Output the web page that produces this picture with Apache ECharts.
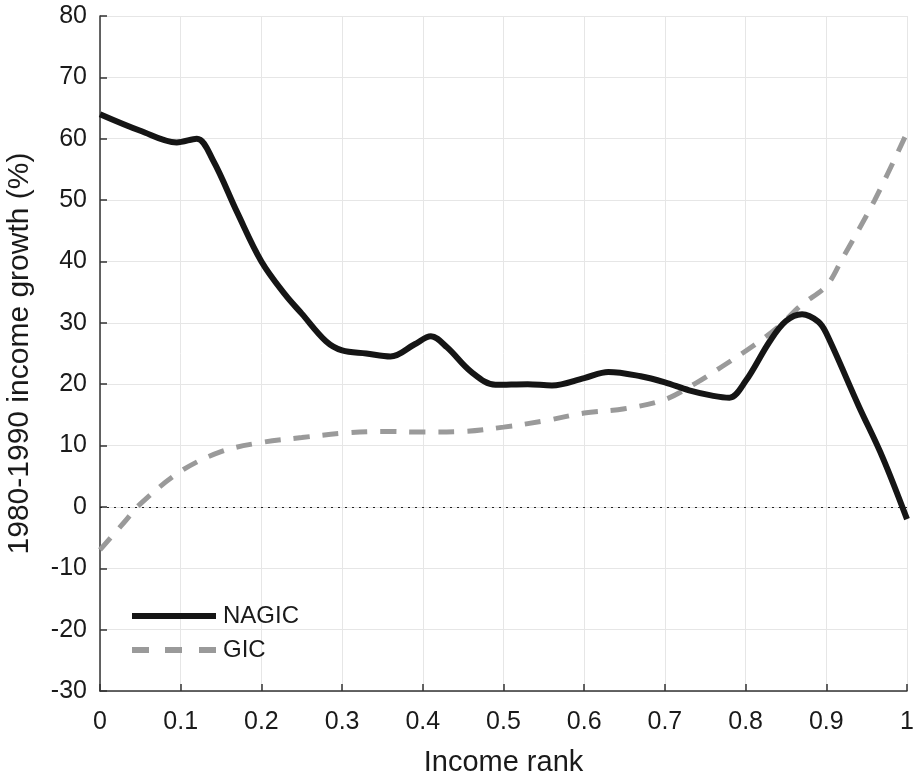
<!DOCTYPE html>
<html>
<head>
<meta charset="utf-8">
<script src="https://cdn.jsdelivr.net/npm/echarts@6/dist/echarts.min.js"></script>
<style>
html, body { margin: 0; padding: 0; background: #fff; }
#chart { width: 913px; height: 777px; }
</style>
</head>
<body>
<div id="chart"></div>
<script>
// NAGIC: non-anonymous growth incidence curve
var nagicX = [0, 0.05, 0.095, 0.12, 0.14, 0.17, 0.2, 0.23, 0.25, 0.28, 0.3, 0.33, 0.36, 0.39, 0.41, 0.43, 0.46, 0.49, 0.53, 0.56, 0.6, 0.63, 0.67, 0.7, 0.73, 0.76, 0.78, 0.8, 0.83, 0.85, 0.87, 0.89, 0.9, 0.94, 0.97, 1.0];
var nagicY = [64, 61.3, 59.4, 60, 56.5, 48, 40, 34.5, 31.5, 27, 25.5, 25, 24.5, 26.5, 27.8, 26, 22, 19.9, 20, 19.8, 21, 22, 21.3, 20.3, 19, 18.1, 17.8, 20.5, 27, 30.3, 31.4, 30.2, 28.3, 16.5, 8, -2];
// GIC: growth incidence curve
var gicX = [0, 0.03, 0.05, 0.1, 0.15, 0.2, 0.25, 0.3, 0.35, 0.4, 0.45, 0.5, 0.55, 0.6, 0.65, 0.7, 0.74, 0.77, 0.81, 0.84, 0.87, 0.9, 0.92, 0.96, 1.0];
var gicY = [-7, -2.5, 0.5, 5.8, 9, 10.5, 11.3, 12, 12.3, 12.2, 12.3, 13, 14, 15.3, 16, 17.5, 20.3, 22.8, 26.3, 29.3, 33, 36, 40.5, 50, 61];

function pairs(xs, ys) {
    var out = [];
    for (var i = 0; i < xs.length; i++) out.push([xs[i], ys[i]]);
    return out;
}

var chart = echarts.init(document.getElementById('chart'));
var font = 'Liberation Sans, Arial, sans-serif';
var option = {
    backgroundColor: '#fff',
    animation: false,
    grid: { left: 100, right: 6, top: 16, bottom: 86, containLabel: false, outerBoundsMode: 'none' },
    legend: {
        orient: 'vertical',
        left: 127,
        top: 599,
        itemWidth: 84,
        itemHeight: 6,
        itemGap: 10,
        textStyle: { fontSize: 24, color: '#1a1a1a', fontFamily: font, padding: [0, 0, 0, 2] },
        data: [
            { name: 'NAGIC', icon: 'path://M0,0h84v6h-84z' },
            { name: 'GIC', icon: 'path://M0,0h17v6h-17z M33,0h17v6h-17z M67,0h17v6h-17z' }
        ]
    },
    xAxis: {
        type: 'value',
        min: 0, max: 1, interval: 0.1,
        name: 'Income rank',
        nameLocation: 'middle',
        nameGap: 57,
        nameTextStyle: { fontSize: 29, color: '#1a1a1a', fontFamily: font },
        axisLine: { onZero: false, lineStyle: { color: '#333', width: 1.5 } },
        axisTick: { inside: true, length: 7, lineStyle: { color: '#333', width: 1.5 } },
        axisLabel: { fontSize: 25, color: '#1a1a1a', fontFamily: font, margin: 19 },
        splitLine: { show: true, lineStyle: { color: '#e6e6e6', width: 1 } }
    },
    yAxis: {
        type: 'value',
        min: -30, max: 80, interval: 10,
        name: '1980-1990 income growth (%)',
        nameLocation: 'middle',
        nameGap: 65,
        nameTextStyle: { fontSize: 30, color: '#1a1a1a', fontFamily: font },
        axisLine: { show: true, onZero: false, lineStyle: { color: '#333', width: 1.5 } },
        axisTick: { show: true, inside: true, length: 7, lineStyle: { color: '#333', width: 1.5 } },
        axisLabel: { fontSize: 25, color: '#1a1a1a', fontFamily: font, margin: 13 },
        splitLine: { show: true, lineStyle: { color: '#e6e6e6', width: 1 } }
    },
    series: [
        {
            name: 'NAGIC',
            type: 'line',
            smooth: 0.35,
            symbol: 'none',
            data: pairs(nagicX, nagicY),
            lineStyle: { color: '#151515', width: 6 },
            itemStyle: { color: '#151515' },
            z: 3,
            markLine: {
                silent: true,
                symbol: 'none',
                label: { show: false },
                lineStyle: { color: '#222', type: [2, 5], width: 1.2 },
                data: [{ yAxis: 0 }]
            }
        },
        {
            name: 'GIC',
            type: 'line',
            smooth: 0.35,
            symbol: 'none',
            data: pairs(gicX, gicY),
            lineStyle: { color: '#9a9a9a', width: 5, type: [16, 13] },
            itemStyle: { color: '#9a9a9a' },
            z: 2
        }
    ]
};
chart.setOption(option);
</script>
</body>
</html>
